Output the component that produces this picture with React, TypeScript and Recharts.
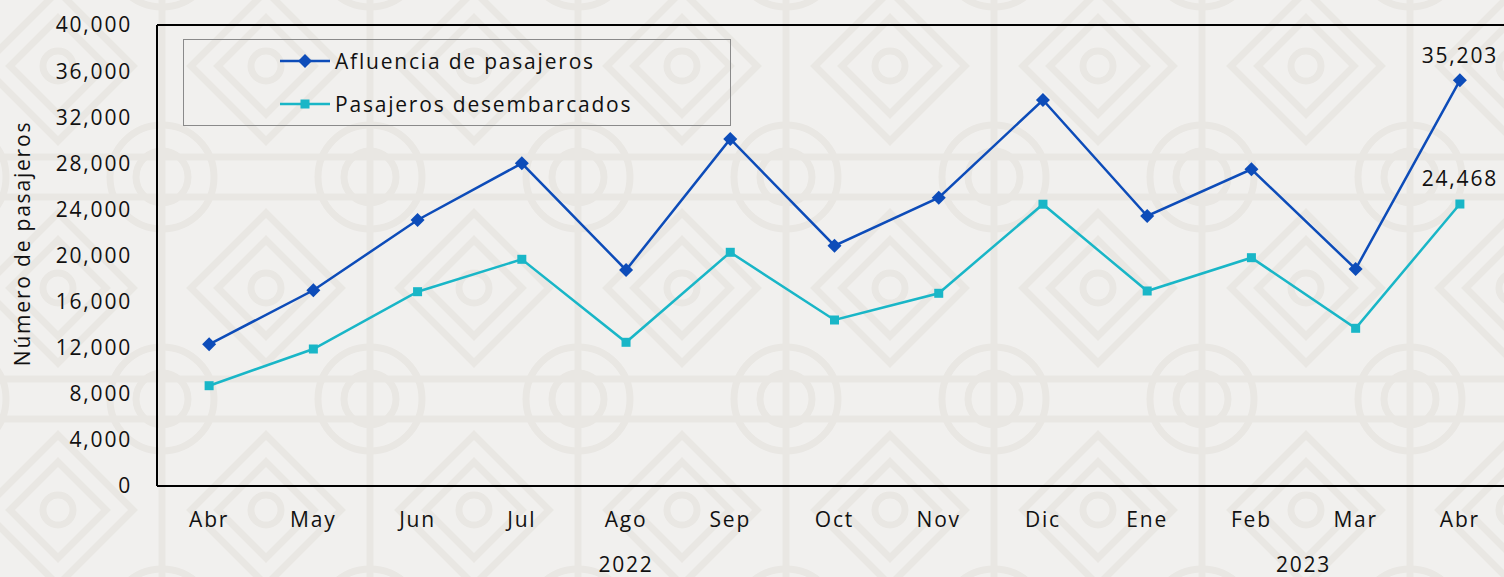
import { LineChart, Line, XAxis, YAxis, LabelList, CartesianGrid } from 'recharts'

const months = ['Abr', 'May', 'Jun', 'Jul', 'Ago', 'Sep', 'Oct', 'Nov', 'Dic', 'Ene', 'Feb', 'Mar', 'Abr']
const yearGroups = [
  { year: '2022', start: 0, end: 8 },
  { year: '2023', start: 9, end: 12 },
]
const afluencia = [12296, 16981, 23081, 28001, 18742, 30109, 20851, 25016, 33493, 23428, 27480, 18829, 35203]
const desembarcados = [8703, 11887, 16860, 19671, 12469, 20278, 14404, 16721, 24450, 16920, 19810, 13684, 24468]
const yTicks = [0, 4000, 8000, 12000, 16000, 20000, 24000, 28000, 32000, 36000, 40000]

const FONT = '"Open Sans", sans-serif'
const LS = 1.8
const BLUE = '#0d4cb9'
const CYAN = '#19b6c7'
const W = 1530
const H = 577
const M = { top: 25, right: 18, bottom: 0, left: 0 }
const Y_W = 157
const BAND = (W - M.left - M.right - Y_W) / months.length
const FRAME = { stroke: '#000', strokeWidth: 2 }

const data = months.map((m, i) => ({
  idx: i,
  month: m,
  afluencia: afluencia[i],
  desembarcados: desembarcados[i],
}))

const fmt = (v: number) => v.toLocaleString('en-US')

function Diamond(props: any) {
  const { cx, cy } = props
  if (cx == null || cy == null) return null
  const r = 7
  return <polygon points={`${cx},${cy - r} ${cx + r},${cy} ${cx},${cy + r} ${cx - r},${cy}`} fill={BLUE} />
}

function Square(props: any) {
  const { cx, cy } = props
  if (cx == null || cy == null) return null
  return <rect x={cx - 4.5} y={cy - 4.5} width={9} height={9} fill={CYAN} />
}

function MonthTick(props: any) {
  const { x, y, payload } = props
  const i = payload.value as number
  const group = yearGroups.find((g) => g.start === i)
  return (
    <g fontFamily={FONT} fontSize={21} fill="#111" letterSpacing={LS}>
      <text x={x} y={y} dy="0.71em" textAnchor="middle">
        {months[i]}
      </text>
      {group && (
        <text x={x + ((group.end - group.start) / 2) * BAND} y={y + 45} dy="0.71em" textAnchor="middle">
          {group.year}
        </text>
      )}
    </g>
  )
}

function YTick(props: any) {
  const { x, y, payload } = props
  return (
    <text x={x} y={y} dy="0.355em" textAnchor="end" fontFamily={FONT} fontSize={21} fill="#111" letterSpacing={LS}>
      {fmt(payload.value)}
    </text>
  )
}

function lastLabel(offset: number) {
  return (props: any) => {
    const { x, y, value, index } = props
    if (index !== months.length - 1) return null
    return (
      <text x={x} y={y - offset} textAnchor="middle" fontFamily={FONT} fontSize={21} fill="#111" letterSpacing={LS}>
        {fmt(value)}
      </text>
    )
  }
}

function YTitle(props: any) {
  const { viewBox } = props
  const cx = viewBox.x + 22
  const cy = viewBox.y + viewBox.height / 2 - 12
  return (
    <text
      x={cx}
      y={cy}
      transform={`rotate(-90 ${cx} ${cy})`}
      textAnchor="middle"
      dominantBaseline="central"
      fontFamily={FONT}
      fontSize={21}
      fill="#111"
      letterSpacing={LS}
    >
      Número de pasajeros
    </text>
  )
}

function Background() {
  return (
    <svg width={1504} height={577} style={{ position: 'absolute', left: 0, top: 0 }}>
      <defs>
        <pattern id="tile" width={208} height={222} patternUnits="userSpaceOnUse" x={58} y={66}>
          <g fill="none" stroke="#e9e7e3" strokeWidth={7}>
            <circle cx={104} cy={111} r={52} />
            <circle cx={104} cy={111} r={26} />
            <line x1={104} y1={0} x2={104} y2={222} />
            <line x1={0} y1={91} x2={208} y2={91} />
            <line x1={0} y1={131} x2={208} y2={131} />
            {[
              [0, 0],
              [208, 0],
              [0, 222],
              [208, 222],
            ].map(([px, py], k) => (
              <g key={k}>
                <polygon points={`${px},${py - 75} ${px + 75},${py} ${px},${py + 75} ${px - 75},${py}`} />
                <polygon points={`${px},${py - 48} ${px + 48},${py} ${px},${py + 48} ${px - 48},${py}`} />
                <circle cx={px} cy={py} r={15} />
              </g>
            ))}
          </g>
        </pattern>
      </defs>
      <rect width={1504} height={577} fill="#f1f0ee" />
      <rect width={1504} height={577} fill="url(#tile)" />
    </svg>
  )
}

function LegendBox() {
  const rows = [
    { name: 'Afluencia de pasajeros', color: BLUE, shape: 'diamond' },
    { name: 'Pasajeros desembarcados', color: CYAN, shape: 'square' },
  ]
  return (
    <div
      style={{
        position: 'absolute',
        left: 183,
        top: 39,
        width: 546,
        height: 85,
        border: '1px solid #8a8a8a',
        fontFamily: FONT,
        fontSize: 21,
        letterSpacing: LS,
        color: '#111',
      }}
    >
      {rows.map((r, i) => (
        <div
          key={r.name}
          style={{ position: 'absolute', left: 96, top: 6 + i * 43, height: 30, display: 'flex', alignItems: 'center' }}
        >
          <svg width={52} height={20}>
            <line x1={0} y1={10} x2={50} y2={10} stroke={r.color} strokeWidth={2.5} />
            {r.shape === 'diamond' ? (
              <polygon points="25,3 32,10 25,17 18,10" fill={r.color} />
            ) : (
              <rect x={20.5} y={5.5} width={9} height={9} fill={r.color} />
            )}
          </svg>
          <span style={{ marginLeft: 3 }}>{r.name}</span>
        </div>
      ))}
    </div>
  )
}

export default function App() {
  return (
    <div style={{ position: 'fixed', left: 0, top: 0, width: 1504, height: 577, overflow: 'hidden' }}>
      <Background />
      <div style={{ position: 'absolute', left: 0, top: 0 }}>
        <LineChart width={W} height={H} data={data} margin={M}>
          <CartesianGrid vertical={false} horizontalValues={[40000]} stroke="#000" strokeWidth={2} />
          <XAxis
            dataKey="idx"
            type="category"
            height={91}
            axisLine={FRAME}
            tickLine={false}
            tickMargin={20}
            padding={{ left: BAND / 2, right: BAND / 2 }}
            tick={<MonthTick />}
            interval={0}
          />
          <YAxis
            width={Y_W}
            domain={[0, 40000]}
            ticks={yTicks}
            axisLine={FRAME}
            tickLine={false}
            tickMargin={19}
            tick={<YTick />}
            label={{ content: <YTitle /> }}
          />
          <Line
            dataKey="afluencia"
            name="Afluencia de pasajeros"
            stroke={BLUE}
            strokeWidth={2.5}
            dot={<Diamond />}
            activeDot={false}
            isAnimationActive={false}
          >
            <LabelList dataKey="afluencia" content={lastLabel(17)} />
          </Line>
          <Line
            dataKey="desembarcados"
            name="Pasajeros desembarcados"
            stroke={CYAN}
            strokeWidth={2.5}
            dot={<Square />}
            activeDot={false}
            isAnimationActive={false}
          >
            <LabelList dataKey="desembarcados" content={lastLabel(18)} />
          </Line>
        </LineChart>
      </div>
      <LegendBox />
    </div>
  )
}
